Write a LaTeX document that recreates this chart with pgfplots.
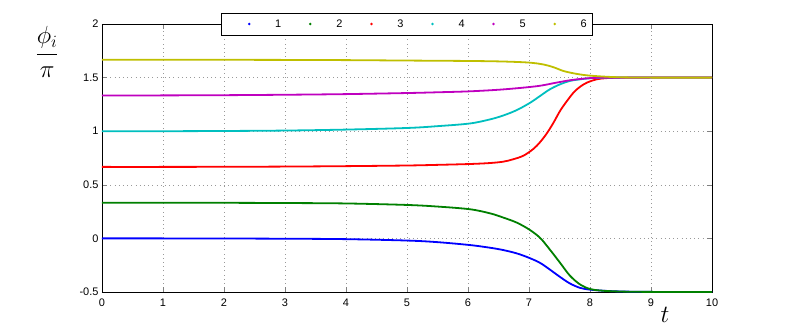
\documentclass[border=0pt]{standalone}
\usepackage{amsmath}
\usepackage{fontspec}
\setmainfont{Liberation Sans}
\usepackage{pgfplots}
\pgfplotsset{compat=1.18}
\definecolor{c1}{rgb}{0,0,1}
\definecolor{c2}{rgb}{0,0.5,0}
\definecolor{c3}{rgb}{1,0,0}
\definecolor{c4}{rgb}{0,0.75,0.75}
\definecolor{c5}{rgb}{0.75,0,0.75}
\definecolor{c6}{rgb}{0.75,0.75,0}

\begin{document}
\begin{tikzpicture}
\begin{axis}[
    scale only axis,
    width=610bp, height=268bp,
    xmin=0, xmax=10,
    ymin=-0.5, ymax=2,
    xtick={0,1,2,3,4,5,6,7,8,9,10},
    ytick={-0.5,0,0.5,1,1.5,2},
    grid=major,
    grid style={gray!80, line width=0.5bp, dash pattern=on 0.6bp off 3.6bp},
    tick align=inside,
    major tick length=5bp,
    axis line style={line width=0.6bp},
    /pgf/number format/assume math mode=true,
    ticklabel style={font=\fontsize{11}{13}\selectfont},
    xticklabel style={yshift=-3bp},
    xlabel={$t$},
    ylabel={$\dfrac{\phi_i}{\pi}$},
    xlabel style={at={(axis description cs:0.923,-0.086)}, anchor=center, font=\fontsize{36}{40}\selectfont},
    ylabel style={rotate=-90, at={(axis description cs:-0.09,0.896)}, anchor=center, font=\fontsize{24}{28}\selectfont},
    legend columns=6,
    legend style={at={(0.5,1)}, anchor=center, draw=black, fill=white,
        line width=0.6bp, inner xsep=4bp, inner ysep=4.5bp,
        font=\fontsize{11}{13}\selectfont,
        nodes={inner sep=2bp},
        /tikz/every even column/.append style={column sep=3bp}},
    legend image code/.code={\path[draw=none] (0bp,0bp) -- (48bp,0bp); \fill[#1, draw=none] (24bp,0bp) circle (1.4bp);},
    every axis plot/.append style={line width=1.8bp, smooth, tension=0.55},
]
\addplot[c1] coordinates {(0,0)(1,0)(2,-0.001)(3,-0.003)(4,-0.007)(5,-0.02)(5.5,-0.035)(6.03,-0.062)(6.36,-0.087)(6.58,-0.109)(6.8,-0.14)(7.0,-0.181)(7.18,-0.228)(7.34,-0.29)(7.51,-0.36)(7.67,-0.42)(7.84,-0.462)(8.0,-0.478)(8.22,-0.488)(8.5,-0.495)(9,-0.499)(10,-0.5)};
\addplot[c2] coordinates {(0,0.333)(1,0.333)(2,0.332)(3,0.330)(4,0.326)(5,0.312)(5.5,0.297)(6.03,0.272)(6.36,0.234)(6.58,0.194)(6.8,0.147)(7.0,0.084)(7.18,0.006)(7.34,-0.103)(7.51,-0.228)(7.67,-0.347)(7.84,-0.431)(8.0,-0.472)(8.16,-0.486)(8.33,-0.492)(8.6,-0.497)(9,-0.499)(10,-0.5)};
\addplot[c3] coordinates {(0,0.667)(1,0.667)(2,0.668)(3,0.67)(4,0.674)(5,0.68)(5.5,0.686)(6.03,0.694)(6.36,0.703)(6.58,0.716)(6.74,0.738)(6.91,0.772)(7.07,0.834)(7.18,0.897)(7.29,0.978)(7.40,1.078)(7.51,1.19)(7.62,1.28)(7.73,1.36)(7.84,1.416)(7.95,1.453)(8.11,1.484)(8.27,1.495)(8.5,1.499)(9,1.5)(10,1.5)};
\addplot[c4] coordinates {(0,1)(1,1)(2,1.002)(3,1.006)(4,1.015)(5,1.03)(5.5,1.047)(6.03,1.072)(6.36,1.11)(6.58,1.147)(6.8,1.197)(7.02,1.266)(7.18,1.328)(7.34,1.39)(7.51,1.4375)(7.67,1.469)(7.84,1.484)(8.0,1.494)(8.2,1.498)(8.5,1.5)(9,1.5)(10,1.5)};
\addplot[c5] coordinates {(0,1.333)(1,1.334)(2,1.336)(3,1.34)(4,1.346)(5,1.356)(5.5,1.363)(6.03,1.372)(6.58,1.39)(7.13,1.42)(7.45,1.453)(7.67,1.475)(7.89,1.49)(8.11,1.498)(8.5,1.5)(9,1.5)(10,1.5)};
\addplot[c6] coordinates {(0,1.667)(1,1.667)(2,1.666)(3,1.665)(4,1.663)(5,1.659)(6.03,1.655)(6.58,1.65)(7.0,1.64)(7.24,1.622)(7.40,1.597)(7.56,1.5625)(7.73,1.54)(7.89,1.525)(8.05,1.516)(8.27,1.508)(8.5,1.503)(9,1.5)(10,1.5)};
\legend{1,2,3,4,5,6}
\end{axis}
\pgfresetboundingbox
\path[use as bounding box] ([shift={(-102bp,-40bp)}]current axis.south west) rectangle ([shift={(77bp,24bp)}]current axis.north east);
\end{tikzpicture}
\end{document}
